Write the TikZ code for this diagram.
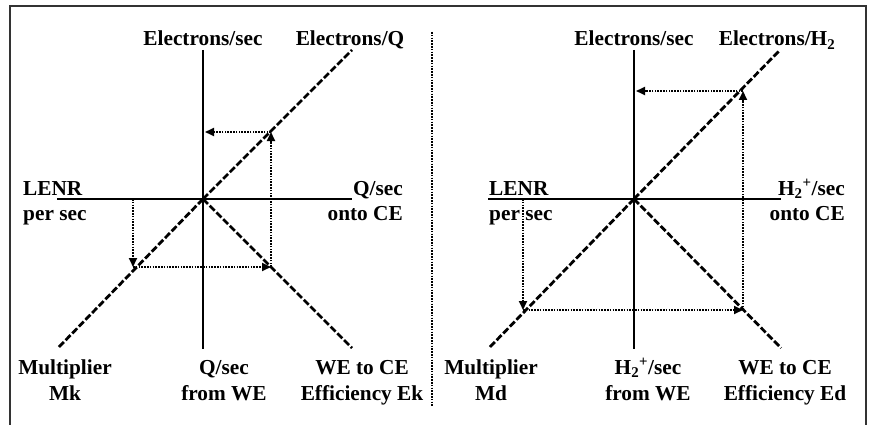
\documentclass[tikz,border=0pt]{standalone}
\usepackage{fontspec}
\setmainfont{Liberation Serif}
\usetikzlibrary{arrows.meta}
\newcommand{\firstln}{\rule{0pt}{18pt}}
\begin{document}
\begin{tikzpicture}[x=1pt,y=-1pt,
  axis/.style={line width=2.8pt},
  diag/.style={line width=2.8pt, dash pattern=on 7pt off 2.5pt},
  flow/.style={line width=1.8pt, dash pattern=on 1.6pt off 1.2pt, -{Triangle[length=9pt,width=8pt]}},
  frame/.style={line width=1.5pt, black!80},
  sep/.style={line width=1.6pt, dash pattern=on 1.6pt off 1.2pt},
  lbl/.style={font=\fontsize{21.3}{26}\selectfont\bfseries, inner sep=0pt},
  sidelbl/.style={font=\fontsize{21.3}{25}\selectfont\bfseries, inner sep=0pt},
]
\useasboundingbox (0,0) rectangle (872,425);
% frame
\coordinate (fbl) at (10,425);
\coordinate (ftl) at (10,6);
\coordinate (ftr) at (866,6);
\coordinate (fbr) at (866,425);
\draw[frame] (fbl) -- (ftl) -- (ftr) -- (fbr);
\coordinate (st) at (432,32);
\coordinate (sb) at (432,406);
\draw[sep] (st) -- (sb);

% ---------- left panel ----------
\coordinate (o1) at (203,199);
\coordinate (v1t) at (203,50);
\coordinate (v1b) at (203,349);
\coordinate (h1l) at (57,199);
\coordinate (h1r) at (352,199);
\coordinate (d1ur) at (352,50);
\coordinate (d1ll) at (58,348);
\coordinate (d1lr) at (352,348);
\draw[axis] (v1t) -- (v1b);
\draw[axis] (h1l) -- (h1r);
\draw[diag] (o1) -- (d1ur);
\draw[diag] (o1) -- (d1ll);
\draw[diag] (o1) -- (d1lr);

\coordinate (a1) at (133,199);
\coordinate (b1) at (133,267);
\coordinate (c1) at (271,267);
\coordinate (e1) at (271,132);
\coordinate (f1) at (205,132);
\draw[flow] (a1) -- (b1);
\draw[flow] (b1) -- (c1);
\draw[flow] (c1) -- (e1);
\draw[flow] (e1) -- (f1);

\node[lbl, anchor=base] (es1) at (203,46) {Electrons/sec};
\node[lbl, anchor=base] (eq) at (350,46) {Electrons/Q};
\node[sidelbl, anchor=north west, align=left] (lenr1) at (23,177) {\firstln LENR\\per sec};
\node[sidelbl, anchor=north east, align=right] (qce) at (403,177) {\firstln Q/sec\\onto CE};
\node[lbl, anchor=north, align=center] (mk) at (65,356) {\firstln Multiplier\\Mk};
\node[lbl, anchor=north, align=center] (qwe) at (224,356) {\firstln Q/sec\\from WE};
\node[lbl, anchor=north, align=center] (ek) at (362,356) {\firstln WE to CE\\Efficiency Ek};

% ---------- right panel ----------
\coordinate (o2) at (634,199);
\coordinate (v2t) at (634,50);
\coordinate (v2b) at (634,349);
\coordinate (h2l) at (488,199);
\coordinate (h2r) at (781,199);
\coordinate (d2ur) at (780,50);
\coordinate (d2ll) at (489,348);
\coordinate (d2lr) at (781,348);
\draw[axis] (v2t) -- (v2b);
\draw[axis] (h2l) -- (h2r);
\draw[diag] (o2) -- (d2ur);
\draw[diag] (o2) -- (d2ll);
\draw[diag] (o2) -- (d2lr);

\coordinate (a2) at (523,199);
\coordinate (b2) at (523,310);
\coordinate (c2) at (743,310);
\coordinate (e2) at (743,91);
\coordinate (f2) at (636,91);
\draw[flow] (a2) -- (b2);
\draw[flow] (b2) -- (c2);
\draw[flow] (c2) -- (e2);
\draw[flow] (e2) -- (f2);

\node[lbl, anchor=base] (es2) at (634,46) {Electrons/sec};
\node[lbl, anchor=base] (eh) at (777,46) {Electrons/H\textsubscript{2}};
\node[sidelbl, anchor=north west, align=left] (lenr2) at (489,177) {\firstln LENR\\per sec};
\node[sidelbl, anchor=north east, align=right] (hce) at (845,177) {\firstln H\textsubscript{2}\textsuperscript{+}/sec\\onto CE};
\node[lbl, anchor=north, align=center] (md) at (491,356) {\firstln Multiplier\\Md};
\node[lbl, anchor=north, align=center] (hwe) at (648,356) {\firstln H\textsubscript{2}\textsuperscript{+}/sec\\from WE};
\node[lbl, anchor=north, align=center] (ed) at (785,356) {\firstln WE to CE\\Efficiency Ed};
\end{tikzpicture}
\end{document}
